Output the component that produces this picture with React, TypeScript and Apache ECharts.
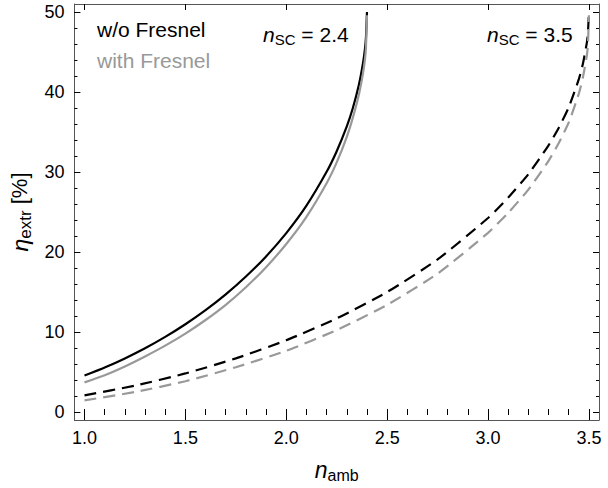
import React, { useEffect, useRef } from "react";
import * as echarts from "echarts";

// n_SC = 2.4, without Fresnel (solid black)
const xSC24 = [1.0, 1.1, 1.2, 1.3, 1.4, 1.5, 1.6, 1.7, 1.8, 1.9, 2.0, 2.1, 2.2, 2.25, 2.3, 2.33, 2.36, 2.38, 2.39, 2.395, 2.4];
const noFresnel24 = [4.55, 5.56, 6.7, 7.97, 9.39, 10.97, 12.73, 14.7, 16.93, 19.45, 22.36, 25.79, 30.02, 32.6, 35.7, 38.0, 40.9, 43.56, 45.4, 46.8, 50];
// n_SC = 2.4, with Fresnel (solid gray)
const withFresnel24 = [3.7, 4.6, 5.7, 6.95, 8.3, 9.8, 11.5, 13.4, 15.6, 18.1, 21.0, 24.4, 28.6, 31.2, 34.4, 36.8, 39.7, 42.3, 44.1, 45.6, 49.6];

// n_SC = 3.5
const xSC35 = [1.0, 1.25, 1.5, 1.75, 2.0, 2.25, 2.5, 2.75, 3.0, 3.1, 3.2, 3.3, 3.35, 3.4, 3.45, 3.47, 3.49, 3.495, 3.5];
const noFresnel35 = [2.08, 3.3, 4.82, 6.7, 8.97, 11.7, 15.0, 19.07, 24.25, 26.8, 29.74, 33.34, 35.5, 38.1, 41.6, 43.5, 46.2, 47.3, 50];
const withFresnel35 = [1.45, 2.5, 3.85, 5.6, 7.65, 10.25, 13.4, 17.3, 22.4, 24.9, 27.8, 31.4, 33.6, 36.2, 39.8, 41.8, 44.6, 45.9, 49.6];

const xMajorTicks = [1.0, 1.5, 2.0, 2.5, 3.0, 3.5];
const xMinorTicks = [1.0, 1.1, 1.2, 1.3, 1.4, 1.5, 1.6, 1.7, 1.8, 1.9, 2.0, 2.1, 2.2, 2.3, 2.4, 2.5, 2.6, 2.7, 2.8, 2.9, 3.0, 3.1, 3.2, 3.3, 3.4, 3.5];
const yMajorTicks = [0, 10, 20, 30, 40, 50];
const yMinorTicks = [0, 2, 4, 6, 8, 10, 12, 14, 16, 18, 20, 22, 24, 26, 28, 30, 32, 34, 36, 38, 40, 42, 44, 46, 48, 50];

const FONT = "'Liberation Sans', Arial, Helvetica, sans-serif";
const GRAY = "#999999";
const FRAME = "#555555";

const zip = (xs: number[], ys: number[]) => xs.map((x, i) => [x, ys[i]]);

export default function App() {
  const ref = useRef<HTMLDivElement>(null);
  useEffect(() => {
    if (!ref.current) return;
    const chart = echarts.init(ref.current, undefined, { renderer: "svg" });
    const xBase = { type: "value", min: 0.95, max: 3.55, gridIndex: 0 } as any;
    const yBase = { type: "value", min: -1, max: 51, gridIndex: 0 } as any;
    const majorX = (pos: string, labels: boolean) => ({
      ...xBase,
      position: pos,
      splitLine: { show: false },
      axisLine: { show: true, onZero: false, lineStyle: { color: FRAME, width: 1 } },
      axisTick: { show: true, inside: true, length: 6, customValues: xMajorTicks, lineStyle: { color: "#000", width: 1 } },
      axisLabel: labels
        ? { show: true, customValues: xMajorTicks, formatter: (v: number) => v.toFixed(1), fontSize: 18, color: "#000", fontFamily: FONT, margin: 9 }
        : { show: false },
      name: labels ? "{i|n}{s|amb}" : "",
      nameLocation: "middle",
      nameGap: 36,
      nameTextStyle: {
        rich: {
          i: { fontStyle: "italic", fontSize: 23, fontFamily: FONT, color: "#000" },
          s: { fontSize: 16, fontFamily: FONT, color: "#000", padding: [11, 0, 0, 0] },
        },
      },
    });
    const minorX = (pos: string) => ({
      ...xBase,
      position: pos,
      splitLine: { show: false },
      axisLine: { show: false },
      axisTick: { show: true, inside: true, length: 3, customValues: xMinorTicks, lineStyle: { color: "#000", width: 1 } },
      axisLabel: { show: false },
    });
    const majorY = (pos: string, labels: boolean) => ({
      ...yBase,
      position: pos,
      splitLine: { show: false },
      axisLine: { show: true, onZero: false, lineStyle: { color: FRAME, width: 1 } },
      axisTick: { show: true, inside: true, length: 6, customValues: yMajorTicks, lineStyle: { color: "#000", width: 1 } },
      axisLabel: labels
        ? { show: true, customValues: yMajorTicks, fontSize: 18, color: "#000", fontFamily: FONT, margin: 10 }
        : { show: false },
      name: labels ? "{i|η}{s|extr}{t| [%]}" : "",
      nameLocation: "middle",
      nameRotate: 90,
      nameGap: 38,
      nameTextStyle: {
        rich: {
          i: { fontStyle: "italic", fontSize: 23, fontFamily: FONT, color: "#000" },
          s: { fontSize: 17, fontFamily: FONT, color: "#000", padding: [11, 0, 0, 0] },
          t: { fontSize: 22, fontFamily: FONT, color: "#000" },
        },
      },
    });
    const minorY = (pos: string) => ({
      ...yBase,
      position: pos,
      splitLine: { show: false },
      axisLine: { show: false },
      axisTick: { show: true, inside: true, length: 3, customValues: yMinorTicks, lineStyle: { color: "#000", width: 1 } },
      axisLabel: { show: false },
    });

    const annRich = {
      i: { fontStyle: "italic", fontSize: 21, fontFamily: FONT, fill: "#000" },
      s: { fontSize: 15, fontFamily: FONT, fill: "#000", padding: [9, 0, 0, 0] },
      t: { fontSize: 21, fontFamily: FONT, fill: "#000" },
    };

    chart.setOption({
      animation: false,
      backgroundColor: "#fff",
      grid: { left: 74, right: 9, top: 4, bottom: 63, containLabel: false },
      xAxis: [majorX("bottom", true), minorX("bottom"), majorX("top", false), minorX("top")],
      yAxis: [majorY("left", true), minorY("left"), majorY("right", false), minorY("right")],
      series: [
        { type: "line", name: "w/o Fresnel 2.4", data: zip(xSC24, noFresnel24), showSymbol: false, smooth: 0.2, lineStyle: { color: "#000", width: 2.2 }, itemStyle: { color: "#000" } },
        { type: "line", name: "with Fresnel 2.4", data: zip(xSC24, withFresnel24), showSymbol: false, smooth: 0.2, lineStyle: { color: GRAY, width: 2.2 }, itemStyle: { color: GRAY } },
        { type: "line", name: "w/o Fresnel 3.5", data: zip(xSC35, noFresnel35), showSymbol: false, smooth: 0.2, lineStyle: { color: "#000", width: 2.2, type: [12, 7] }, itemStyle: { color: "#000" } },
        { type: "line", name: "with Fresnel 3.5", data: zip(xSC35, withFresnel35), showSymbol: false, smooth: 0.2, lineStyle: { color: GRAY, width: 2.2, type: [12, 7] }, itemStyle: { color: GRAY } },
      ],
      graphic: [
        { type: "text", left: 97, top: 19, style: { text: "w/o Fresnel", fontSize: 21, fontFamily: FONT, fill: "#000" } },
        { type: "text", left: 97, top: 50, style: { text: "with Fresnel", fontSize: 21, fontFamily: FONT, fill: GRAY } },
        { type: "text", left: 263, top: 24, style: { text: "{i|n}{s|SC}{t| = 2.4}", rich: annRich } },
        { type: "text", left: 487, top: 24, style: { text: "{i|n}{s|SC}{t| = 3.5}", rich: annRich } },
      ],
    });
    return () => chart.dispose();
  }, []);
  return <div ref={ref} style={{ position: "fixed", left: 0, top: 0, width: 608, height: 488 }} />;
}
